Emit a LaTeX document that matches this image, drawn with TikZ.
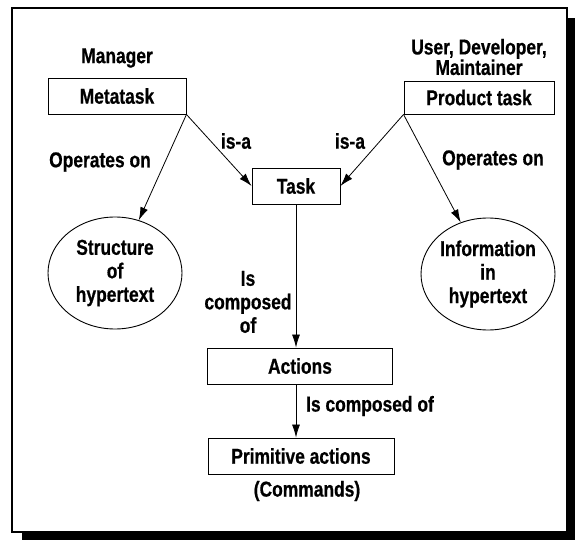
\documentclass[tikz,border=0pt]{standalone}
\usepackage{fontspec}
\setmainfont{Liberation Sans}[FakeStretch=0.81, BoldFeatures={FakeBold=0.6}]
\usetikzlibrary{arrows.meta}
\usetikzlibrary{shapes.geometric}

\tikzset{
 box/.style={draw, line width=0.9pt, inner sep=0, minimum height=36pt},
 blob/.style={draw, ellipse, line width=0.9pt, inner sep=-5pt, minimum width=134pt, minimum height=112pt, align=center},
 lbl/.style={inner sep=0, align=center},
}

\begin{document}
\begin{tikzpicture} [x=1pt, y=-1pt, font=\fontsize{21.5}{23.5}\selectfont\bfseries, >={Latex[length=13pt,width=8pt]}]
\useasboundingbox (0,0) rectangle (575,540);
% frame with shadow
\fill[black] (22,18) rectangle (575,540);
\draw[fill=white, line width=2pt] (12,8) rectangle (567,532);

\node[box, minimum width=138pt] (meta) at (117,96) {Metatask};
\node[lbl] (mgr) at (117,58) {Manager};
\node[box, minimum width=150pt, minimum height=33pt] (prod) at (479,97.5) {Product task};
\node[lbl] (users) at (479,57) {User, Developer,\\[-3pt]Maintainer};
\node[box, minimum width=88pt] (task) at (296,186) {Task};
\node[box, minimum width=185pt] (act) at (300,366) {Actions};
\node[box, minimum width=186pt] (prim) at (301,456) {Primitive actions};
\node[lbl] (cmd) at (307,491) {(Commands)};
\node[blob] (struct) at (115,273) {Structure\\of\\hypertext};
\node[blob] (info) at (488,274) {Information\\in\\hypertext};

\node[lbl] (isaL) at (236,141) {is-a};
\node[lbl] (isaR) at (350,141) {is-a};
\node[lbl] (opsL) at (100,162) {Operates on};
\node[lbl] (opsR) at (493,160) {Operates on};
\node[lbl] (compL) at (248,302) {Is\\composed\\of};
\node[lbl] (compR) at (370,406) {Is composed of};

\draw[->, line width=0.8pt] (meta.south east) -- (task.west);
\draw[->, line width=0.8pt] (meta.south east) -- (struct);
\draw[->, line width=0.8pt] (prod.south west) -- (task.east);
\draw[->, line width=0.8pt] (prod.south west) -- (info);
\draw[->, line width=0.8pt] (task.south) -- (task.south |- act.north);
\draw[->, line width=0.8pt] (act.south -| task.south) -- (task.south |- prim.north);
\end{tikzpicture}
\end{document}
